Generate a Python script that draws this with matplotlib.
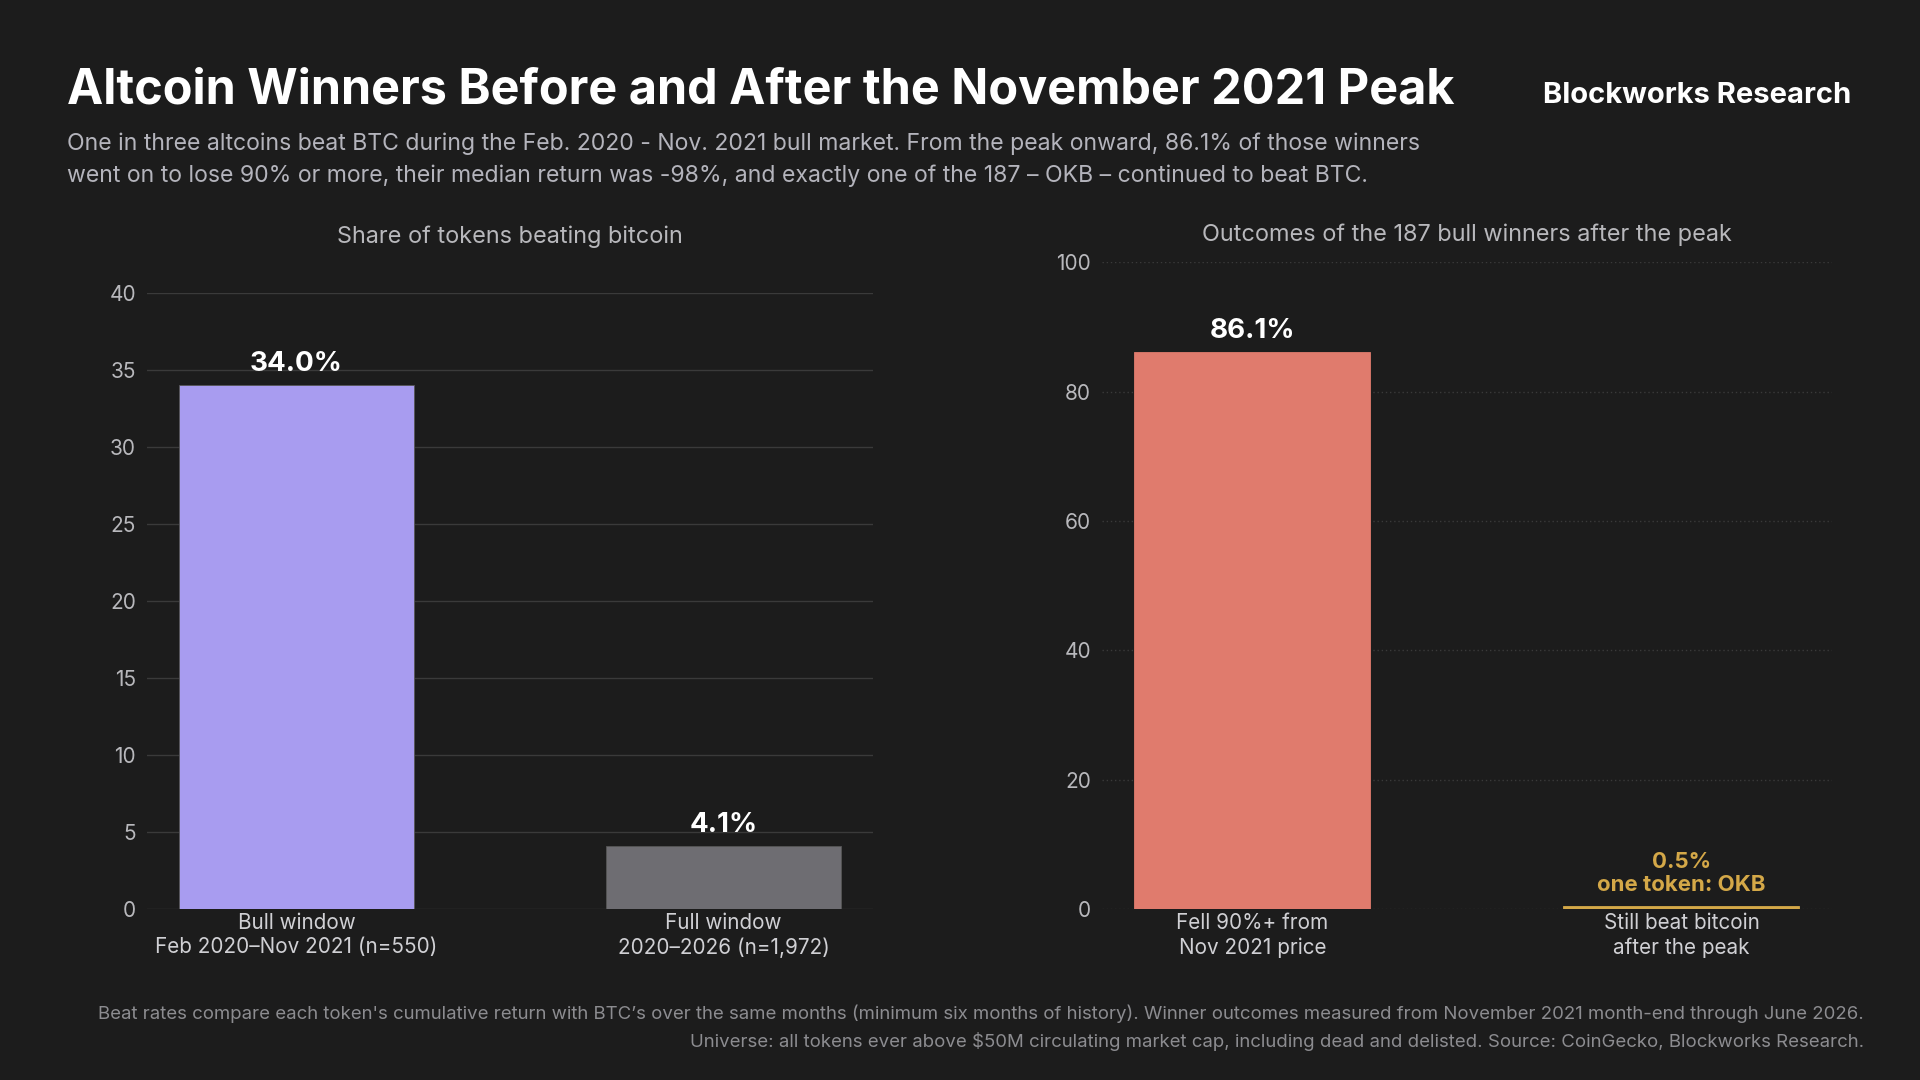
import matplotlib.pyplot as plt

plt.rcParams['font.family'] = ['Inter', 'DejaVu Sans']

# left panel: share of tokens beating bitcoin
share_labels = ['Bull window\nFeb 2020\u2013Nov 2021 (n=550)', 'Full window\n2020\u20132026 (n=1,972)']
share_values = [34.0, 4.1]
share_colors = ['#a89cf0', '#6e6d72']

# right panel: outcomes of the 187 winners
outcome_labels = ['Fell 90%+ from\nNov 2021 price', 'Still beat bitcoin\nafter the peak']
outcome_values = [86.1, 0.5]
outcome_colors = ['#e07b6d', '#d4a848']
outcome_texts = ['86.1%', '0.5%\none token: OKB']

BG = '#1c1c1c'
TICK = '#b8b8bc'

fig = plt.figure(figsize=(19.2, 10.8), dpi=100, facecolor=BG)

fig.text(0.0349, 0.916, 'Altcoin Winners Before and After the November 2021 Peak',
         fontsize=35, fontweight='bold', color='white', va='center', ha='left')
fig.text(0.9643, 0.912, 'Blockworks Research', fontsize=21, fontweight='bold',
         color='white', va='center', ha='right')
fig.text(0.0349, 0.867,
         'One in three altcoins beat BTC during the Feb. 2020 - Nov. 2021 bull market. From the peak onward, 86.1% of those winners',
         fontsize=16.6, color='#b4b4bc', va='center', ha='left')
fig.text(0.0349, 0.837,
         'went on to lose 90% or more, their median return was -98%, and exactly one of the 187 \u2013 OKB \u2013 continued to beat BTC.',
         fontsize=16.6, color='#b4b4bc', va='center', ha='left')

fig.text(0.9708, 0.0615,
         "Beat rates compare each token's cumulative return with BTC\u2019s over the same months (minimum six months of history). Winner outcomes measured from November 2021 month-end through June 2026.",
         fontsize=13.4, color='#8c8c90', va='center', ha='right')
fig.text(0.9708, 0.036,
         'Universe: all tokens ever above $50M circulating market cap, including dead and delisted. Source: CoinGecko, Blockworks Research.',
         fontsize=13.4, color='#8c8c90', va='center', ha='right')


def style_axis(ax, ymax, step, grid_ls):
    ax.set_facecolor(BG)
    ax.set_ylim(0, ymax)
    ax.set_xlim(-0.35, 1.35)
    ax.set_yticks(range(0, ymax + 1, step))
    for s in ax.spines.values():
        s.set_visible(False)
    ax.tick_params(axis='y', length=0, colors=TICK, labelsize=15, pad=8)
    ax.tick_params(axis='x', length=0, colors='#d0d0d4', labelsize=14.9, pad=3)
    ax.grid(axis='y', color='#3a3a3a', linewidth=1, linestyle=grid_ls)
    ax.set_axisbelow(True)
    for lab in ax.get_xticklabels():
        lab.set_linespacing(1.25)


ax1 = fig.add_axes([0.0766, 0.1583, 0.378, 0.5704])
ax1.bar(range(len(share_values)), share_values, width=0.55, color=share_colors,
        edgecolor='#555555', linewidth=0.6)
ax1.set_xticks(range(len(share_values)))
ax1.set_xticklabels(share_labels)
style_axis(ax1, 40, 5, '-')
for i, v in enumerate(share_values):
    ax1.annotate(f'{v:.1f}%', (i, v), xytext=(0, 6), textcoords='offset points',
                 ha='center', va='bottom', fontsize=20, fontweight='bold', color='white')
ax1.set_title('Share of tokens beating bitcoin', fontsize=16.9, color='#b8b8bc', pad=36)

ax2 = fig.add_axes([0.574, 0.1583, 0.380, 0.599])
ax2.bar(range(len(outcome_values)), outcome_values, width=0.55, color=outcome_colors,
        edgecolor=outcome_colors, linewidth=0.6)
ax2.set_xticks(range(len(outcome_values)))
ax2.set_xticklabels(outcome_labels)
style_axis(ax2, 100, 20, (0, (1, 2)))
ax2.annotate(outcome_texts[0], (0, outcome_values[0]), xytext=(0, 6), textcoords='offset points',
             ha='center', va='bottom', fontsize=20, fontweight='bold', color='white')
ax2.annotate(outcome_texts[1], (1, outcome_values[1]), xytext=(0, 8), textcoords='offset points',
             ha='center', va='bottom', fontsize=16, fontweight='bold', color=outcome_colors[1],
             linespacing=1.15)
ax2.set_title('Outcomes of the 187 bull winners after the peak', fontsize=16.9,
              color='#b8b8bc', pad=15)

fig.savefig('out.png', dpi=100, facecolor=BG)
